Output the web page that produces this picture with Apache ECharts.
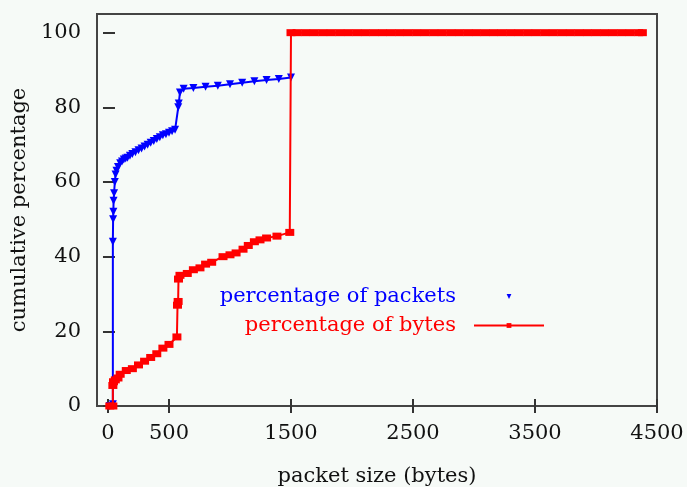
<!DOCTYPE html>
<html>
<head>
<meta charset="utf-8">
<script src="https://cdn.jsdelivr.net/npm/echarts@6/dist/echarts.min.js"></script>
<style>
  html, body { margin: 0; padding: 0; background: #f6faf7; }
  #main { width: 687px; height: 487px; }
</style>
</head>
<body>
<div id="main"></div>
<script>
// tick positions
const xTicks = [0, 500, 1500, 2500, 3500, 4500];
const yTicks = [0, 20, 40, 60, 80, 100];

// cumulative % of packets vs packet size (bytes)
const packetSizes = [15, 40, 40, 42, 44, 46, 50, 56, 62, 70, 82, 100, 115, 130, 145, 160, 180, 200, 225, 250, 275, 300,
  325, 350, 375, 400, 425, 450, 475, 500, 525, 550,
  576, 580, 590, 620, 700, 800, 900, 1000, 1100, 1200, 1300, 1400, 1500];
const packetPct = [0, 0.5, 44, 50, 52, 55, 57, 60, 62, 63, 64, 65, 65.5, 66, 66.3, 66.5, 67, 67.5, 68, 68.5, 69, 69.5,
  70, 70.5, 71, 71.5, 72, 72.5, 72.8, 73.2, 73.6, 74,
  80, 81, 84, 85, 85.2, 85.5, 85.8, 86.2, 86.6, 87, 87.3, 87.6, 88];

// cumulative % of bytes vs packet size (bytes)
const byteSizes = [15, 40, 40, 45, 60, 82, 100, 150, 200, 250, 300, 350, 400, 450, 500, 565,
  570, 575, 578, 590, 650, 700, 754, 800, 850, 943, 1000, 1050, 1107, 1150, 1200, 1246, 1300, 1385, 1490,
  1500, 1550, 1620, 1690, 1760, 1830, 1900, 1970, 2040, 2110, 2180, 2250, 2320, 2390, 2460, 2530, 2600,
  2670, 2740, 2810, 2880, 2950, 3020, 3090, 3160, 3230, 3300, 3370, 3440, 3510, 3580, 3650, 3720, 3790,
  3860, 3930, 4000, 4070, 4140, 4210, 4280, 4350, 4380];
const bytePct = [0, 0, 5.5, 6.5, 7, 7.5, 8.5, 9.5, 10, 11, 12, 13, 14, 15.5, 16.5, 18.5,
  27, 28, 34, 35, 35.5, 36.5, 37, 38, 38.5, 40, 40.5, 41, 42, 43, 44, 44.5, 45, 45.5, 46.5,
  100, 100, 100, 100, 100, 100, 100, 100, 100, 100, 100, 100, 100, 100, 100, 100, 100,
  100, 100, 100, 100, 100, 100, 100, 100, 100, 100, 100, 100, 100, 100, 100, 100, 100,
  100, 100, 100, 100, 100, 100, 100, 100, 100];

const font = "DejaVu Serif";
const zip = (xs, ys) => xs.map((x, i) => [x, ys[i]]);
const plain = v => String(v);

let myChart = echarts.init(document.getElementById("main"));
const mirrorAxis = {
  axisLine: { show: false },
  axisLabel: { show: false },
  splitLine: { show: false }
};
myChart.setOption({
  backgroundColor: "#f6faf7",
  animation: false,
  grid: {
    left: 97, right: 30, top: 14, bottom: 81,
    outerBoundsMode: "none",
    show: true, borderColor: "#444", borderWidth: 2, backgroundColor: "transparent"
  },
  xAxis: [
    {
      type: "value", min: -90, max: 4500,
      name: "packet size (bytes)", nameLocation: "middle", nameGap: 60,
      nameTextStyle: { fontFamily: font, fontSize: 21, color: "#111" },
      axisLine: { show: false },
      splitLine: { show: false },
      axisTick: { inside: true, length: 7, customValues: xTicks, lineStyle: { color: "#333", width: 2 } },
      axisLabel: { customValues: xTicks, formatter: plain, margin: 17, fontFamily: font, fontSize: 21, color: "#111" }
    },
    Object.assign({
      type: "value", min: -90, max: 4500, position: "top",
      axisTick: { inside: true, length: 7, customValues: xTicks, lineStyle: { color: "#333", width: 2 } }
    }, mirrorAxis)
  ],
  yAxis: [
    {
      type: "value", min: 0, max: 105,
      name: "cumulative percentage", nameLocation: "middle", nameGap: 58,
      nameTextStyle: { fontFamily: font, fontSize: 21, color: "#111" },
      axisLine: { show: false },
      splitLine: { show: false },
      axisTick: { inside: true, length: 7, customValues: yTicks, lineStyle: { color: "#333", width: 2 } },
      axisLabel: { customValues: yTicks, formatter: plain, margin: 16, fontFamily: font, fontSize: 21, color: "#111" }
    },
    Object.assign({
      type: "value", min: 0, max: 105, position: "right",
      axisTick: { inside: true, length: 5, customValues: yTicks, lineStyle: { color: "#333", width: 2 } }
    }, mirrorAxis)
  ],
  legend: [
    {
      data: [{ name: "percentage of packets", lineStyle: { opacity: 0 } }],
      orient: "vertical", align: "right", right: 137, top: 281,
      itemWidth: 70, itemHeight: 6,
      textStyle: { fontFamily: font, fontSize: 21, color: "#0000ff", padding: [0, 13, 0, 0] }
    },
    {
      data: ["percentage of bytes"],
      orient: "vertical", align: "right", right: 137, top: 310,
      itemWidth: 70, itemHeight: 6,
      textStyle: { fontFamily: font, fontSize: 21, color: "#ff0000", padding: [0, 13, 0, 0] }
    }
  ],
  series: [
    {
      name: "percentage of packets",
      type: "line",
      data: zip(packetSizes, packetPct),
      symbol: "triangle", symbolSize: 8, symbolRotate: 180,
      itemStyle: { color: "#0000ff" },
      lineStyle: { color: "#0000ff", width: 2 },
      z: 2
    },
    {
      name: "percentage of bytes",
      type: "line",
      data: zip(byteSizes, bytePct),
      symbol: "rect", symbolSize: [9, 7],
      itemStyle: { color: "#ff0000" },
      lineStyle: { color: "#ff0000", width: 2 },
      z: 3
    }
  ]
});
</script>
</body>
</html>
